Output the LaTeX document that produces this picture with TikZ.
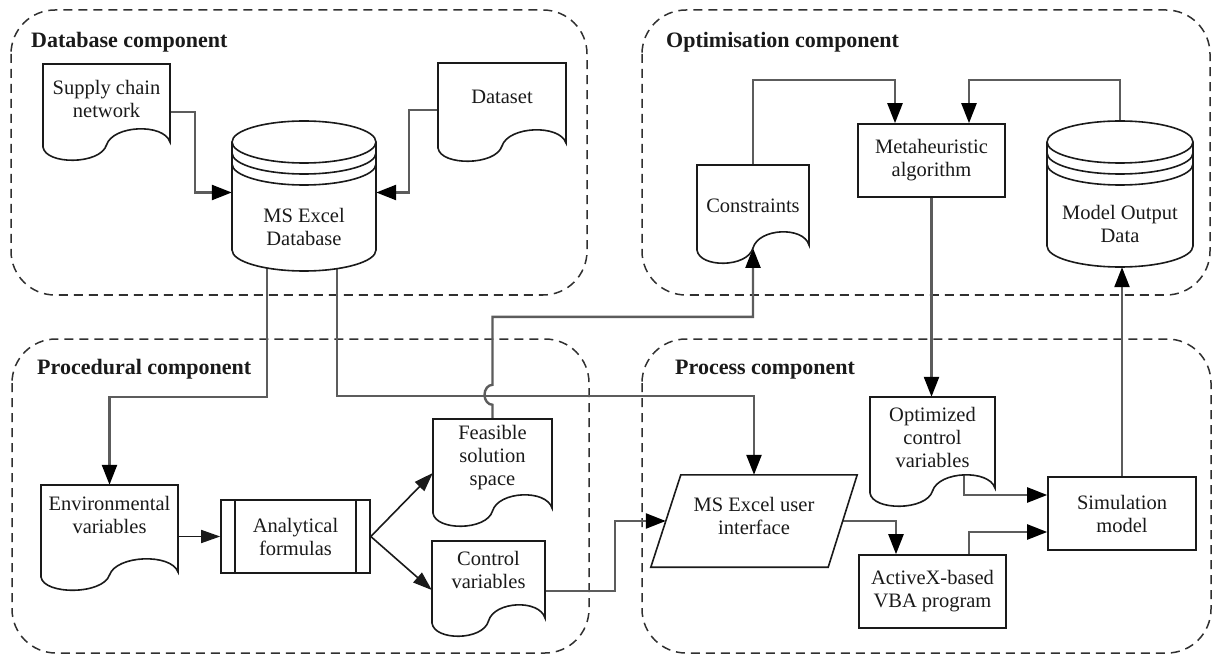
\documentclass[tikz,border=0pt]{standalone}
\usepackage{fontspec}
\setmainfont{Liberation Serif}
\usetikzlibrary{arrows.meta,calc,backgrounds}

\newcommand\diagfont{\fontsize{20.5}{23}\selectfont}
\newcommand\headfont{\fontsize{22}{26}\selectfont\bfseries}

\definecolor{connc}{HTML}{5C5C5C}
\definecolor{framec}{HTML}{303030}
\definecolor{inkc}{HTML}{1A1A1A}

\tikzset{
  shapeline/.style={draw=inkc, line width=1.6pt, fill=white},
  boxnode/.style={rectangle, draw=inkc, line width=1.6pt, fill=white, inner sep=0pt,
                  align=center, font=\diagfont, text=inkc},
  ghost/.style={rectangle, draw=none, inner sep=0pt},
  txt/.style={align=center, inner sep=0pt, font=\diagfont, text=inkc},
  frame/.style={draw=framec, line width=1.5pt, dash pattern=on 9pt off 6pt, rounded corners=44pt},
  title/.style={anchor=west, inner sep=0pt, font=\headfont, text=inkc},
  conn/.style={draw=connc, line width=2.4pt, -{Triangle[length=20pt,width=15pt,color=black]}},
  thinconn/.style={draw=inkc, line width=1.6pt, -{Triangle[length=19pt,width=13pt]}},
}

% document symbol: name, left, top, right, bottom of left side, text y, text
\newcommand\docshape[7]{%
  \pgfmathsetmacro\dw{#4-#2}%
  \pgfmathsetmacro\dh{#5-#3}%
  \node[ghost, minimum width=\dw pt, minimum height=\dh pt] (#1) at ({(#2+#4)/2},{(#3+#5)/2}) {};
  \draw[shapeline] (#2,#3) -- (#4,#3) -- ({#4},{#5-5})
    .. controls ({#4-0.05*\dw},{#5-24}) and ({#2+0.55*\dw},{#5-22}) .. ({#2+0.5*\dw},{#5-2})
    .. controls ({#2+0.45*\dw},{#5+18}) and ({#2+0.02*\dw},{#5+18}) .. (#2,#5) -- cycle;
  \coordinate (#1-dip) at ({#2+0.5*\dw},{#5-2});
  \coordinate (#1-hump) at ({#2+0.75*\dw},{#5-18});
  \node[txt] (#1-t) at ({(#2+#4)/2},#6) {#7};
}

% stacked-disk database: name, left, top, right, end of sides, text y, text
\newcommand\dbshape[7]{%
  \pgfmathsetmacro\rx{(#4-#2)/2}%
  \pgfmathsetmacro\cx{(#4+#2)/2}%
  \pgfmathsetmacro\yc{#3+21}%
  \pgfmathsetmacro\cw{#4-#2}%
  \pgfmathsetmacro\ch{#5+21-#3}%
  \node[ghost, minimum width=\cw pt, minimum height=\ch pt] (#1) at (\cx,{(#3+#5+21)/2}) {};
  \draw[shapeline] (#2,\yc) -- (#2,#5) arc[start angle=180, end angle=0, x radius=\rx, y radius=21] -- (#4,\yc);
  \draw[shapeline] (\cx,\yc) ellipse[x radius=\rx, y radius=21];
  \draw[shapeline, fill=none] (#2,{\yc+11}) arc[start angle=180, end angle=0, x radius=\rx, y radius=21];
  \draw[shapeline, fill=none] (#2,{\yc+22}) arc[start angle=180, end angle=0, x radius=\rx, y radius=21];
  \node[txt] (#1-t) at (\cx,#6) {#7};
}

\begin{document}
\begin{tikzpicture}[x=1pt,y=-1pt]
\useasboundingbox (0,0) rectangle (1223,660);

% ---------- component titles ----------
\node[title] (h-db)   at (31,42)   {Database component};
\node[title] (h-opt)  at (666,42)  {Optimisation component};
\node[title] (h-proc) at (37,369)  {Procedural component};
\node[title] (h-pc)   at (675,370) {Process component};

% ---------- database component ----------
\docshape{scn}{43}{64}{170}{147}{98.5}{Supply chain\\network}
\dbshape{db}{232}{121}{376}{250}{226.5}{MS Excel\\Database}
\docshape{ds}{438}{63}{566}{148}{97}{Dataset}

% ---------- optimisation component ----------
\docshape{cons}{697}{165}{809}{250}{206}{Constraints}
\node[boxnode, minimum width=147pt, minimum height=73pt] (meta) at (931.5,160.5) {Metaheuristic\\algorithm};
\dbshape{mod}{1047}{121}{1193}{246}{224}{Model Output\\Data}

% ---------- procedural component ----------
\docshape{env}{41}{485}{178}{577}{514.5}{Environmental\\variables}
\node[boxnode, minimum width=149pt, minimum height=73pt] (ana) at (295.5,536.5) {Analytical\\formulas};
\draw[shapeline] ([xshift=15pt]ana.north west) -- ([xshift=15pt]ana.south west)
                 ([xshift=-15pt]ana.north east) -- ([xshift=-15pt]ana.south east);
\docshape{feas}{433}{419}{552}{513}{457.5}{Feasible\\solution\\space}
\docshape{ctrl}{432}{541}{545}{623}{569.5}{Control\\variables}

% ---------- process component ----------
\node[ghost, minimum width=206pt, minimum height=92pt] (ui) at (754,521) {};
\draw[shapeline] ([xshift=30pt]ui.north west) -- (ui.north east)
  -- ([xshift=-29pt]ui.south east) -- (ui.south west) -- cycle;
\node[txt] (ui-t) at (754,516) {MS Excel user\\interface};
\coordinate (ui-r) at ($(ui.north east)!0.5!([xshift=-29pt]ui.south east)$);
\coordinate (ui-l) at ($([xshift=30pt]ui.north west)!0.5!(ui.south west)$);
\docshape{opt}{870}{397}{995}{493}{437}{Optimized\\control\\variables}
\node[boxnode, minimum width=147pt, minimum height=73pt] (act) at (932.5,591.5) {ActiveX-based\\VBA program};
\node[boxnode, minimum width=148pt, minimum height=73pt] (sim) at (1122,513.5) {Simulation\\model};

\begin{scope}[on background layer]
  \fill[white] (0,0) rectangle (1223,660);
  % dashed component frames
  \draw[frame] (11,10) rectangle (587,295);
  \draw[frame] (642,10) rectangle (1210,295);
  \draw[frame] (12,339) rectangle (589,653);
  \draw[frame] (642,339) rectangle (1211,653);

  % connectors
  \draw[conn] ([yshift=-6.5pt]scn.east) -- ++(25,0) |- ([yshift=3.5pt]db.west);
  \draw[conn] ([yshift=-4.5pt]ds.west) -- ++(-29,0) |- ([yshift=3.5pt]db.east);
  \draw[conn] ([shift={(-37pt,10pt)}]db.south) -- ++(0,136) -| (env.north);
  \draw[conn] ([shift={(33pt,10pt)}]db.south) -- ++(0,135) -| (ui.north);
  \draw[thinconn] (ana.west -| env.east) -- (ana.west);
  \draw[thinconn] (ana.east) -- ([yshift=-7pt]feas.west);
  \draw[thinconn] (ana.east) -- ([yshift=-8pt]ctrl.west);
  \draw[conn] (feas.north) -- ++(0,-14)
    arc[start angle=90, end angle=270, x radius=8, y radius=10]
    -- ++(0,-68) -| (cons-dip);
  \draw[conn] (cons.north) -- ++(0,-85) -| ([xshift=-36.5pt]meta.north);
  \draw[conn] (mod.north) -- ++(0,-41) -| ([xshift=37.5pt]meta.north);
  \draw[conn] (meta.south) -- (meta.south |- opt.north);
  \draw[conn] ([yshift=-9pt]ctrl.east) -- ++(70,0) |- (ui-l);
  \draw[conn] (ui-r) -| ([xshift=-36.5pt]act.north);
  \draw[conn] ([xshift=36.5pt]act.north) |- ([yshift=-18.5pt]sim.west);
  \draw[conn] (opt-hump) |- ([yshift=18.5pt]sim.west);
  \draw[conn] (sim.north) -- (sim.north |- mod.south);
\end{scope}
\end{tikzpicture}
\end{document}
